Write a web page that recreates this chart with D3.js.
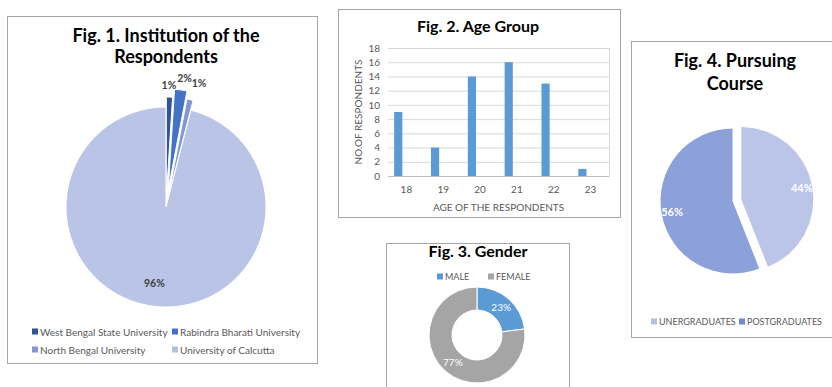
<!DOCTYPE html>
<html>
<head>
<meta charset="utf-8">
<script src="https://cdn.jsdelivr.net/npm/d3@7"></script>
<style>
  html, body { margin: 0; padding: 0; background: #fff; }
  svg { display: block; font-family: Lato, "Open Sans", sans-serif; }
</style>
</head>
<body>
<svg id="chart" width="832" height="387"></svg>
<script>
// Fig. 1 — institution of the respondents (percent)
const institutions = ["West Bengal State University", "Rabindra Bharati University", "North Bengal University", "University of Calcutta"];
const institutionShare = [1, 2, 1, 96];

// Fig. 2 — age group
const ages = ["18", "19", "20", "21", "22", "23"];
const ageCounts = [9, 4, 14, 16, 13, 1];
const ageTicks = [0, 2, 4, 6, 8, 10, 12, 14, 16, 18];

// Fig. 3 — gender (percent)
const genders = ["MALE", "FEMALE"];
const genderShare = [23, 77];

// Fig. 4 — pursuing course (percent)
const courses = ["UNERGRADUATES", "POSTGRADUATES"];
const courseShare = [44, 56];

const svg = d3.select("#chart");
const defs = svg.append("defs");
const textGray = "#595959";
const frameColor = "#a6a6a6";

function vGradient(id, top, bottom, y0, y1) {
  const g = defs.append("linearGradient").attr("id", id)
    .attr("gradientUnits", "userSpaceOnUse")
    .attr("x1", 0).attr("x2", 0).attr("y1", y0).attr("y2", y1);
  g.append("stop").attr("offset", "0%").attr("stop-color", top);
  g.append("stop").attr("offset", "100%").attr("stop-color", bottom);
  return `url(#${id})`;
}

function frame(x, y, w, h) {
  svg.append("rect").attr("x", x + 0.5).attr("y", y + 0.5)
    .attr("width", w).attr("height", h)
    .attr("fill", "#fff").attr("stroke", frameColor).attr("stroke-width", 1);
}

function title(lines, cx, y0, size, lh) {
  const t = svg.append("text").attr("text-anchor", "middle")
    .attr("font-weight", "bold").attr("font-size", size).attr("fill", "#000");
  lines.forEach((l, i) => t.append("tspan").attr("x", cx).attr("y", y0 + i * lh).text(l));
}

function legendItem(x, y, color, label, size) {
  svg.append("rect").attr("x", x).attr("y", y - 3.5).attr("width", 6).attr("height", 6).attr("fill", color);
  svg.append("text").attr("x", x + 8).attr("y", y).attr("dy", "0.35em")
    .attr("font-size", size).attr("fill", textGray).text(label);
}

/* ---------------- Fig. 1 ---------------- */
{
  frame(7, 16, 310, 347);
  title(["Fig. 1. Institution of the", "Respondents"], 166, 42, 18, 21);

  const cx = 166, cy = 207, r = 100;
  const explode = [10, 18, 10, 0];
  const colors = ["#2f5597", "#4472c4", "#8397d6", vGradient("g1", "#b9c4e6", "#9ba7cf", cy - r, cy + r)];
  const legendColors = ["#2f5597", "#4472c4", "#8397d6", "#b4c0e2"];
  const pie = d3.pie().sort(null).value(d => d)(institutionShare);
  const arc = d3.arc().innerRadius(0).outerRadius(r);
  const g = svg.append("g").attr("transform", `translate(${cx},${cy})`);

  // the big slice first, so the pulled-out slivers sit on top of it
  const order = [3, 0, 1, 2].map(i => pie[i]);
  g.selectAll("path").data(order).join("path")
    .attr("d", arc)
    .attr("transform", d => {
      const a = (d.startAngle + d.endAngle) / 2, e = explode[d.index];
      return `translate(${Math.sin(a) * e},${-Math.cos(a) * e})`;
    })
    .attr("fill", d => colors[d.index])
    .attr("stroke", "#fff").attr("stroke-width", 1);

  // labels: small slices sit above the rim, spread apart so they stay readable
  const outer = d3.arc().innerRadius(r + 24).outerRadius(r + 24);
  const nudge = [[-1, 2], [3, -6], [6, -3]];
  g.selectAll("text.lbl").data(pie).join("text").attr("class", "lbl")
    .attr("transform", (d, i) => {
      if (i === 3) {
        const c = d3.arc().innerRadius(0).outerRadius(r * 1.53).centroid(d);
        return `translate(${c[0] - 2},${c[1]})`;
      }
      const c = outer.centroid(d);
      return `translate(${c[0] + nudge[i][0]},${c[1] + nudge[i][1]})`;
    })
    .attr("text-anchor", "middle").attr("dy", "0.35em")
    .attr("font-size", 10.5).attr("font-weight", "bold").attr("fill", "#404040")
    .text(d => d.data + "%");

  const lx = [32, 172], ly = [332, 350];
  institutions.forEach((name, i) => {
    legendItem(lx[i % 2], ly[Math.floor(i / 2)], legendColors[i], name, 10);
  });
}

/* ---------------- Fig. 2 ---------------- */
{
  frame(338, 9, 282, 208);
  title(["Fig. 2. Age Group"], 478, 32, 16, 0);

  const left = 388, right = 609, top = 48, bottom = 176;
  const x = d3.scaleBand().domain(ages).range([left, right]).padding(0);
  // three slots per category, the count occupies the first
  const slot = d3.scaleBand().domain([0, 1, 2]).range([0, x.bandwidth()]).paddingInner(0).paddingOuter(0.75);
  const y = d3.scaleLinear().domain([0, 18]).range([bottom, top]);

  const grid = svg.append("g").attr("transform", `translate(${left},0)`)
    .call(d3.axisLeft(y).tickValues(ageTicks).tickSize(-(right - left)).tickFormat(""));
  grid.select(".domain").remove();
  grid.selectAll("line").attr("stroke", "#d9d9d9");
  svg.append("line").attr("x1", right + 0.5).attr("x2", right + 0.5).attr("y1", top).attr("y2", bottom)
    .attr("stroke", "#d9d9d9");

  const yAxis = svg.append("g").attr("transform", `translate(${left},0)`)
    .call(d3.axisLeft(y).tickValues(ageTicks).tickSize(0).tickPadding(8));
  yAxis.select(".domain").remove();
  yAxis.selectAll("text").attr("font-size", 10).attr("fill", textGray).attr("font-family", "Lato, sans-serif");

  svg.append("g").selectAll("rect").data(ageCounts).join("rect")
    .attr("x", (d, i) => x(ages[i]) + slot(0))
    .attr("width", slot.bandwidth())
    .attr("y", d => y(d))
    .attr("height", d => bottom - y(d))
    .attr("fill", "#5b9bd5");

  const xAxis = svg.append("g").attr("transform", `translate(0,${bottom})`)
    .call(d3.axisBottom(x).tickSize(0).tickPadding(10));
  xAxis.select(".domain").attr("stroke", "#bfbfbf");
  xAxis.selectAll("text").attr("font-size", 10).attr("fill", textGray).attr("font-family", "Lato, sans-serif");

  svg.append("text").attr("x", (left + right) / 2).attr("y", 207).attr("dy", "0.35em")
    .attr("text-anchor", "middle").attr("font-size", 10).attr("fill", textGray)
    .text("AGE OF THE RESPONDENTS");
  svg.append("text").attr("transform", `translate(358,${(top + bottom) / 2}) rotate(-90)`)
    .attr("text-anchor", "middle").attr("dy", "0.35em").attr("font-size", 10).attr("fill", textGray)
    .text("NO.OF RESPONDENTS");
}

/* ---------------- Fig. 3 ---------------- */
{
  frame(386, 243, 183, 160);
  title(["Fig. 3. Gender"], 478, 257, 16, 0);

  const colors = ["#5b9bd5", "#a5a5a5"];
  legendItem(437, 277, colors[0], genders[0], 9);
  legendItem(488, 277, colors[1], genders[1], 9);

  const cx = 477, cy = 335, ro = 48, ri = 25;
  const pie = d3.pie().sort(null).value(d => d)(genderShare);
  const arc = d3.arc().innerRadius(ri).outerRadius(ro);
  const g = svg.append("g").attr("transform", `translate(${cx},${cy})`);
  g.selectAll("path").data(pie).join("path")
    .attr("d", arc).attr("fill", (d, i) => colors[i])
    .attr("stroke", "#fff").attr("stroke-width", 1);
  g.selectAll("text").data(pie).join("text")
    .attr("transform", d => `translate(${arc.centroid(d)})`)
    .attr("text-anchor", "middle").attr("dy", "0.35em")
    .attr("font-size", 10).attr("fill", "#fff")
    .text(d => d.data + "%");
}

/* ---------------- Fig. 4 ---------------- */
{
  frame(631, 41, 210, 296);
  title(["Fig. 4. Pursuing", "Course"], 735, 67, 18, 23);

  const cx = 733, cy = 201, r = 73, explode = 8;
  const fills = [vGradient("g4a", "#bac5e7", "#9ca9d3", cy - r, cy + r),
                 vGradient("g4b", "#8ca1d9", "#5877c6", cy - r, cy + r)];
  const legendColors = ["#b4c0e2", "#6f8bd0"];
  const pie = d3.pie().sort(null).value(d => d)(courseShare);
  const arc = d3.arc().innerRadius(0).outerRadius(r);
  const g = svg.append("g").attr("transform", `translate(${cx},${cy})`);
  const off = d => {
    if (d.index !== 0) return [0, 0];
    const a = (d.startAngle + d.endAngle) / 2;
    return [Math.sin(a) * explode, -Math.cos(a) * explode];
  };
  g.selectAll("path").data(pie).join("path")
    .attr("d", arc)
    .attr("transform", d => `translate(${off(d)})`)
    .attr("fill", (d, i) => fills[i])
    .attr("stroke", "#fff").attr("stroke-width", 1);
  const lab = d3.arc().innerRadius(r * 0.85).outerRadius(r * 0.85);
  g.selectAll("text").data(pie).join("text")
    .attr("transform", d => {
      const c = lab.centroid(d), o = off(d);
      return `translate(${c[0] + o[0]},${c[1] + o[1]})`;
    })
    .attr("text-anchor", "middle").attr("dy", "0.35em")
    .attr("font-size", 11).attr("font-weight", "bold").attr("fill", "#fff")
    .text(d => d.data + "%");

  legendItem(651, 322, legendColors[0], courses[0], 9);
  legendItem(739, 322, legendColors[1], courses[1], 9);
}
</script>
</body>
</html>
